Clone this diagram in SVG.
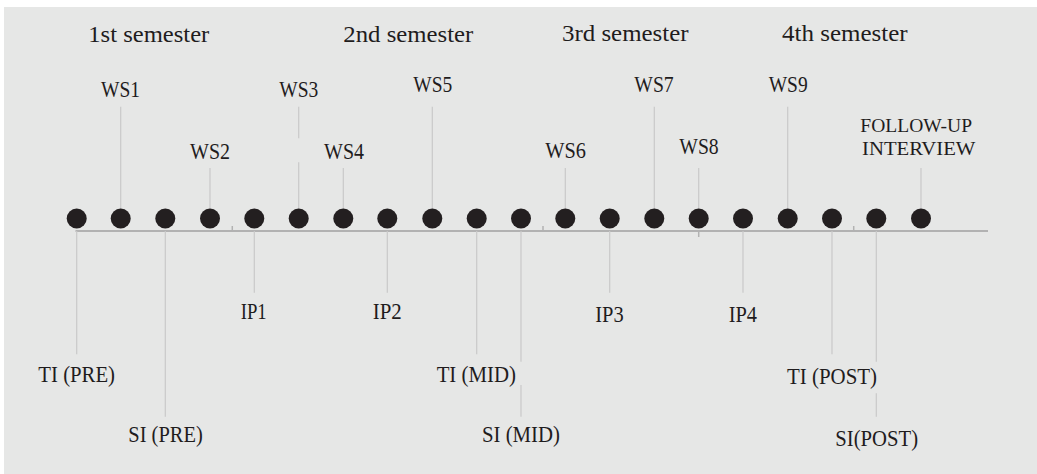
<svg xmlns="http://www.w3.org/2000/svg" width="1037" height="474" viewBox="0 0 1037 474">
<style>
.bg{fill:#e6e7e6}
text{font-family:'Liberation Serif','Times New Roman',Times,serif;font-size:23px;fill:#1f1c1d;text-anchor:middle}
.s{font-size:19px}
.c{stroke:#c9c9c9;stroke-width:1.2;fill:none}
.axis{stroke:#b2b2b2;stroke-width:2;fill:none}
.tick{stroke:#b2b2b2;stroke-width:1.5;fill:none}
.dot{fill:#231f20}
</style>
<rect class="bg" x="4" y="7" width="1033" height="467"/>
<g id="headers">
<text x="148.8" y="41.7" textLength="121" lengthAdjust="spacingAndGlyphs">1st semester</text>
<text x="408.3" y="41.7" textLength="130" lengthAdjust="spacingAndGlyphs">2nd semester</text>
<text x="625.3" y="40.5" textLength="126.7" lengthAdjust="spacingAndGlyphs">3rd semester</text>
<text x="844.8" y="40.5" textLength="125.7" lengthAdjust="spacingAndGlyphs">4th semester</text>
</g>
<g id="connectors">
<line class="axis" x1="75.5" y1="231" x2="988" y2="231"/>
<line class="tick" x1="232.3" y1="226" x2="232.3" y2="231"/>
<line class="tick" x1="543" y1="226" x2="543" y2="231"/>
<line class="tick" x1="853.7" y1="226" x2="853.7" y2="231"/>
<line class="c" x1="120.7" y1="106.7" x2="120.7" y2="210"/>
<line class="c" x1="210" y1="168" x2="210" y2="210"/>
<line class="c" x1="298.7" y1="106.7" x2="298.7" y2="138.3"/>
<line class="c" x1="298.7" y1="162.3" x2="298.7" y2="210"/>
<line class="c" x1="343.3" y1="168" x2="343.3" y2="210"/>
<line class="c" x1="432.3" y1="106.7" x2="432.3" y2="210"/>
<line class="c" x1="565.3" y1="168" x2="565.3" y2="210"/>
<line class="c" x1="654.3" y1="106.7" x2="654.3" y2="210"/>
<line class="c" x1="698.7" y1="168" x2="698.7" y2="210"/>
<line class="tick" x1="698.7" y1="231" x2="698.7" y2="237"/>
<line class="c" x1="787.7" y1="106.7" x2="787.7" y2="210"/>
<line class="c" x1="921" y1="168" x2="921" y2="210"/>
<line class="c" x1="76.7" y1="231" x2="76.7" y2="354.3"/>
<line class="c" x1="165.3" y1="231" x2="165.3" y2="416.7"/>
<line class="c" x1="254.3" y1="231" x2="254.3" y2="292.7"/>
<line class="c" x1="387.3" y1="231" x2="387.3" y2="292.7"/>
<line class="c" x1="476.7" y1="231" x2="476.7" y2="354.3"/>
<line class="c" x1="521" y1="231" x2="521" y2="361.7"/>
<line class="c" x1="521" y1="385" x2="521" y2="416.7"/>
<line class="c" x1="609.7" y1="231" x2="609.7" y2="292.7"/>
<line class="c" x1="743" y1="231" x2="743" y2="292.7"/>
<line class="c" x1="832" y1="231" x2="832" y2="354.3"/>
<line class="c" x1="876.3" y1="231" x2="876.3" y2="361.7"/>
<line class="c" x1="876.3" y1="393.3" x2="876.3" y2="416.7"/>
</g>
<g id="dots">
<circle class="dot" cx="76.7" cy="218.5" r="10"/>
<circle class="dot" cx="120.7" cy="218.5" r="10"/>
<circle class="dot" cx="165.3" cy="218.5" r="10"/>
<circle class="dot" cx="210" cy="218.5" r="10"/>
<circle class="dot" cx="254.3" cy="218.5" r="10"/>
<circle class="dot" cx="298.7" cy="218.5" r="10"/>
<circle class="dot" cx="343.3" cy="218.5" r="10"/>
<circle class="dot" cx="387.3" cy="218.5" r="10"/>
<circle class="dot" cx="432.3" cy="218.5" r="10"/>
<circle class="dot" cx="476.7" cy="218.5" r="10"/>
<circle class="dot" cx="521" cy="218.5" r="10"/>
<circle class="dot" cx="565.3" cy="218.5" r="10"/>
<circle class="dot" cx="609.7" cy="218.5" r="10"/>
<circle class="dot" cx="654.3" cy="218.5" r="10"/>
<circle class="dot" cx="698.7" cy="218.5" r="10"/>
<circle class="dot" cx="743" cy="218.5" r="10"/>
<circle class="dot" cx="787.7" cy="218.5" r="10"/>
<circle class="dot" cx="832" cy="218.5" r="10"/>
<circle class="dot" cx="876.3" cy="218.5" r="10"/>
<circle class="dot" cx="921" cy="218.5" r="10"/>
</g>
<g id="ws1"><text x="120.5" y="96.7" textLength="39" lengthAdjust="spacingAndGlyphs">WS1</text></g>
<g id="ws2"><text x="210" y="159.3" textLength="40" lengthAdjust="spacingAndGlyphs">WS2</text></g>
<g id="ws3"><text x="298.8" y="96.7" textLength="39" lengthAdjust="spacingAndGlyphs">WS3</text></g>
<g id="ws4"><text x="344" y="159.3" textLength="40" lengthAdjust="spacingAndGlyphs">WS4</text></g>
<g id="ws5"><text x="432.8" y="91.7" textLength="39" lengthAdjust="spacingAndGlyphs">WS5</text></g>
<g id="ws6"><text x="565.7" y="158.3" textLength="40.7" lengthAdjust="spacingAndGlyphs">WS6</text></g>
<g id="ws7"><text x="654" y="91.7" textLength="39.4" lengthAdjust="spacingAndGlyphs">WS7</text></g>
<g id="ws8"><text x="699" y="154" textLength="39.4" lengthAdjust="spacingAndGlyphs">WS8</text></g>
<g id="ws9"><text x="788.2" y="91.7" textLength="39" lengthAdjust="spacingAndGlyphs">WS9</text></g>
<g id="followup">
<text class="s" x="916.2" y="131.7" textLength="111.7" lengthAdjust="spacingAndGlyphs">FOLLOW-UP</text>
<text class="s" x="918.7" y="154.5" textLength="113.3" lengthAdjust="spacingAndGlyphs">INTERVIEW</text>
</g>
<g id="ti-pre"><text x="76.7" y="381.7" textLength="76.7" lengthAdjust="spacingAndGlyphs">TI (PRE)</text></g>
<g id="si-pre"><text x="165.5" y="442" textLength="74.4" lengthAdjust="spacingAndGlyphs">SI (PRE)</text></g>
<g id="ip1"><text x="253.7" y="319.3" textLength="26" lengthAdjust="spacingAndGlyphs">IP1</text></g>
<g id="ip2"><text x="387.2" y="319.3" textLength="29" lengthAdjust="spacingAndGlyphs">IP2</text></g>
<g id="ti-mid"><text x="476.3" y="381.7" textLength="79.3" lengthAdjust="spacingAndGlyphs">TI (MID)</text></g>
<g id="si-mid"><text x="521" y="442" textLength="78" lengthAdjust="spacingAndGlyphs">SI (MID)</text></g>
<g id="ip3"><text x="609.5" y="321.7" textLength="28.4" lengthAdjust="spacingAndGlyphs">IP3</text></g>
<g id="ip4"><text x="742.8" y="321.7" textLength="28.3" lengthAdjust="spacingAndGlyphs">IP4</text></g>
<g id="ti-post"><text x="832" y="384" textLength="90" lengthAdjust="spacingAndGlyphs">TI (POST)</text></g>
<g id="si-post"><text x="876.7" y="446.3" textLength="82.7" lengthAdjust="spacingAndGlyphs">SI(POST)</text></g>
</svg>
